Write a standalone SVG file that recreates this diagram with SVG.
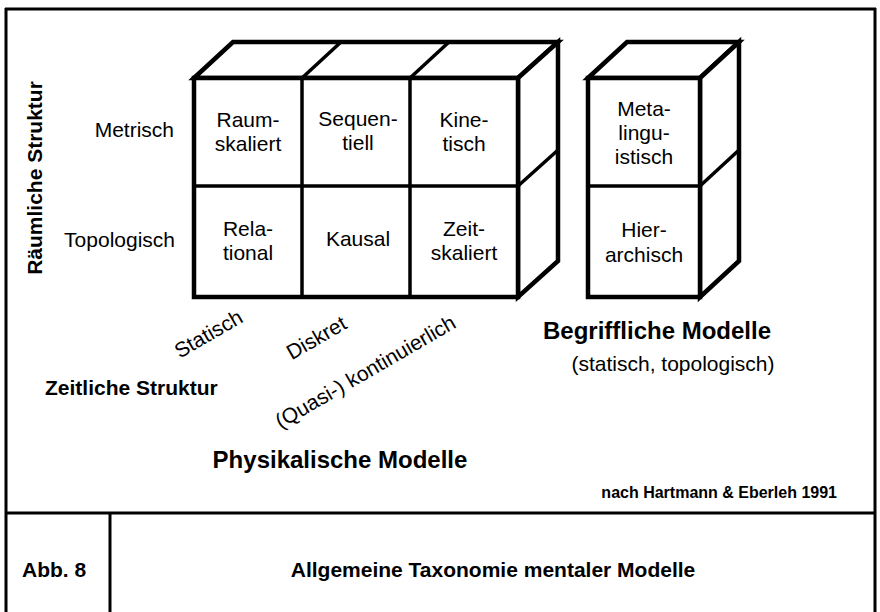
<svg xmlns="http://www.w3.org/2000/svg" width="880" height="612" viewBox="0 0 880 612">
<style>
text{font-family:"Liberation Sans",Arial,Helvetica,sans-serif;fill:#000;}
.r{font-size:21px;}
.b{font-size:21px;font-weight:bold;}
.t{font-size:24px;font-weight:bold;}
.m{text-anchor:middle;}
.e{text-anchor:end;}
.frame{stroke:#000;stroke-width:3;fill:none;}
.ol{stroke:#000;stroke-width:4.5;fill:#fff;stroke-linejoin:miter;}
.in{stroke:#000;stroke-width:3.5;fill:none;}
.bk{stroke:#000;stroke-width:3;fill:none;}
</style>
<rect width="880" height="612" fill="#fff"/>
<g id="frame">
<line class="frame" x1="5" y1="9" x2="876" y2="9"/>
<line class="frame" x1="6" y1="8" x2="6" y2="612"/>
<line class="frame" x1="875" y1="8" x2="875" y2="612"/>
<line class="frame" x1="5" y1="513" x2="876" y2="513"/>
<line class="frame" x1="110" y1="513" x2="110" y2="612"/>
</g>
<g id="physical-block">
<polygon class="ol" points="194,78 233,42 558,42 518,78"/>
<polygon class="ol" points="518,78 558,42 558,261 518,297"/>
<rect class="ol" x="194" y="78" width="324" height="219"/>
<line class="in" x1="302" y1="78" x2="341" y2="42"/>
<line class="in" x1="410" y1="78" x2="449" y2="42"/>
<line class="in" x1="518" y1="186" x2="558" y2="150"/>
<line class="in" x1="302" y1="78" x2="302" y2="297"/>
<line class="in" x1="410" y1="78" x2="410" y2="297"/>
<line class="in" x1="194" y1="186" x2="518" y2="186"/>
<line class="bk" x1="558" y1="42" x2="558" y2="261"/>
</g>
<g id="conceptual-block">
<polygon class="ol" points="588,78 627,42 739,42 700,78"/>
<polygon class="ol" points="700,78 739,42 739,261 700,297"/>
<rect class="ol" x="588" y="78" width="112" height="219"/>
<line class="in" x1="700" y1="186" x2="739" y2="150"/>
<line class="in" x1="588" y1="186" x2="700" y2="186"/>
<line class="bk" x1="739" y1="42" x2="739" y2="261"/>
</g>
<g id="connectors"></g>
<g id="raumskaliert"><text class="r m" x="248" y="127">Raum-</text><text class="r m" x="248" y="151">skaliert</text></g>
<g id="sequentiell"><text class="r m" x="358" y="126">Sequen-</text><text class="r m" x="358" y="150">tiell</text></g>
<g id="kinetisch"><text class="r m" x="464" y="127">Kine-</text><text class="r m" x="464" y="151">tisch</text></g>
<g id="relational"><text class="r m" x="248" y="236">Rela-</text><text class="r m" x="248" y="260">tional</text></g>
<g id="kausal"><text class="r m" x="358" y="246">Kausal</text></g>
<g id="zeitskaliert"><text class="r m" x="464" y="236">Zeit-</text><text class="r m" x="464" y="260">skaliert</text></g>
<g id="metalinguistisch"><text class="r m" x="644" y="116">Meta-</text><text class="r m" x="644" y="140">lingu-</text><text class="r m" x="644" y="164">istisch</text></g>
<g id="hierarchisch"><text class="r m" x="644" y="237">Hier-</text><text class="r m" x="644" y="262">archisch</text></g>
<g id="labels">
<text class="b m" transform="translate(42,178) rotate(-90)">Räumliche Struktur</text>
<text class="r e" x="174" y="137">Metrisch</text>
<text class="r e" x="175" y="247">Topologisch</text>
<text class="r m" transform="translate(212,340) rotate(-30)">Statisch</text>
<text class="r m" transform="translate(320,344) rotate(-30)">Diskret</text>
<text class="r m" transform="translate(369,378) rotate(-30)">(Quasi-) kontinuierlich</text>
<text class="b" x="45" y="395">Zeitliche Struktur</text>
<text class="t m" x="340" y="468">Physikalische Modelle</text>
<text class="t m" x="657" y="339">Begriffliche Modelle</text>
<text class="r m" x="673" y="371">(statisch, topologisch)</text>
<text class="e" x="837" y="498" style="font-size:16px;font-weight:bold">nach Hartmann &amp; Eberleh 1991</text>
<text class="b" x="22" y="577">Abb. 8</text>
<text class="b m" x="493" y="577">Allgemeine Taxonomie mentaler Modelle</text>
</g>
</svg>
